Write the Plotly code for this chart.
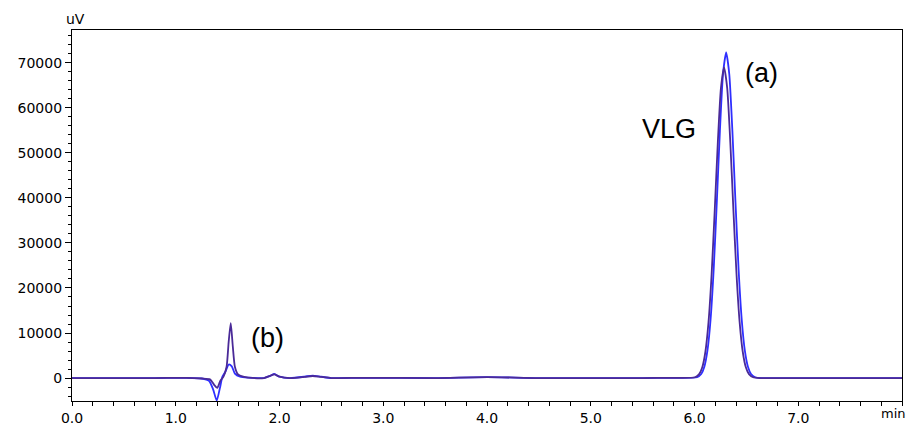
import plotly.graph_objects as go

# Blue trace
blue_t = [0.0, 0.8, 1.1, 1.25, 1.32, 1.36, 1.395, 1.425, 1.45, 1.48, 1.51, 1.54, 1.57, 1.62, 1.7, 1.85, 1.91, 1.95, 2.0, 2.1,
          2.24, 2.32, 2.4, 2.5, 2.8, 3.5, 4.0, 4.5, 5.5, 5.8,
          6.025, 6.065, 6.095, 6.125, 6.155, 6.185, 6.215, 6.245, 6.275, 6.305,
          6.335, 6.365, 6.395, 6.425, 6.455, 6.485, 6.515, 6.545, 6.585, 6.65, 7.0, 8.0]
blue_v = [0, 0, 50, -100, -600, -2500, -5000, -2300, 300, 1500, 3000, 2600, 1000, 300, 100, 0, 500, 900, 300, 0,
          300, 550, 300, 0, 50, 0, 200, 0, 0, 50,
          180, 900, 2510, 6120, 13000, 24150, 39040, 54950, 67530, 72300,
          67530, 54950, 39040, 24150, 13000, 6120, 2510, 900, 180, 0, 0, 0]

# Purple trace
purple_t = [0.0, 0.8, 1.1, 1.25, 1.33, 1.37, 1.40, 1.43, 1.46, 1.49, 1.51, 1.53, 1.55, 1.57, 1.60, 1.65, 1.7, 1.85, 1.91, 1.95,
            2.0, 2.1, 2.24, 2.32, 2.4, 2.5, 2.8, 3.5, 4.0, 4.5, 5.5, 5.8,
            6.005, 6.045, 6.075, 6.105, 6.135, 6.165, 6.195, 6.225, 6.255, 6.285,
            6.315, 6.345, 6.375, 6.405, 6.435, 6.465, 6.495, 6.525, 6.565, 6.63, 7.0, 8.0]
purple_v = [0, 0, 50, -100, -300, -1500, -2200, -600, 300, 2500, 8000, 12200, 7000, 2500, 800, 300, 100, 0, 500, 800,
            300, 0, 250, 450, 250, 0, 50, 0, 200, 0, 0, 50,
            170, 860, 2390, 5840, 12420, 23050, 37260, 52440, 64450, 69000,
            64450, 52440, 37260, 23050, 12420, 5840, 2390, 860, 170, 0, 0, 0]

x_ticks = [0, 1, 2, 3, 4, 5, 6, 7]
x_labels = ["0.0", "1.0", "2.0", "3.0", "4.0", "5.0", "6.0", "7.0"]
y_ticks = [0, 10000, 20000, 30000, 40000, 50000, 60000, 70000]
y_labels = ["0", "10000", "20000", "30000", "40000", "50000", "60000", "70000"]

fig = go.Figure()
fig.add_trace(go.Scatter(x=blue_t, y=blue_v, mode="lines", line=dict(color="#2f2fff", width=1.8, shape="spline", smoothing=0.6)))
fig.add_trace(go.Scatter(x=purple_t, y=purple_v, mode="lines", line=dict(color="#4a2a98", width=1.8, shape="spline", smoothing=0.6)))

tick_font = "DejaVu Sans, Verdana, sans-serif"
ann_font = "Liberation Sans, Arial, sans-serif"
fig.update_layout(
    width=908, height=427,
    margin=dict(l=72, r=6, t=30, b=26, autoexpand=False),
    paper_bgcolor="white", plot_bgcolor="white",
    showlegend=False,
    font=dict(family=tick_font, size=14, color="black"),
    xaxis=dict(range=[0, 8.0], tickvals=x_ticks, ticktext=x_labels, ticks="outside", ticklen=4, tickcolor="black",
               showline=True, linecolor="black", linewidth=1.2, mirror=True, showgrid=False, zeroline=False,
               automargin=False,
               minor=dict(dtick=0.2, tick0=0, ticks="outside", ticklen=4, tickcolor="black"),
               tickfont=dict(size=14, family=tick_font)),
    yaxis=dict(range=[-5100, 77300], tickvals=y_ticks, ticktext=y_labels, ticks="outside", ticklen=6, tickcolor="black",
               showline=True, linecolor="black", linewidth=1.2, mirror=True, showgrid=False, zeroline=False,
               automargin=False,
               minor=dict(dtick=2000, tick0=0, ticks="outside", ticklen=3, tickcolor="black"),
               tickfont=dict(size=14, family=tick_font)),
)

fig.add_annotation(text="(a)", x=6.65, y=67800, showarrow=False, font=dict(size=27, family=ann_font))
fig.add_annotation(text="VLG", x=5.75, y=55300, showarrow=False, font=dict(size=27, family=ann_font))
fig.add_annotation(text="(b)", x=1.88, y=8900, showarrow=False, font=dict(size=27, family=ann_font))
fig.add_annotation(text="uV", xref="paper", yref="paper", x=0, y=1, xanchor="center", yanchor="bottom",
                   xshift=3, yshift=1, showarrow=False, font=dict(size=14, family=tick_font))
fig.add_annotation(text="min", xref="paper", yref="paper", x=1, y=0, xanchor="right", yanchor="top",
                   xshift=5, yshift=-4, showarrow=False, borderpad=0, font=dict(size=13, family=tick_font))

fig.write_html("out.html", config={"displayModeBar": False},
               post_script="document.body.style.margin='0';document.body.style.overflow='hidden';")
